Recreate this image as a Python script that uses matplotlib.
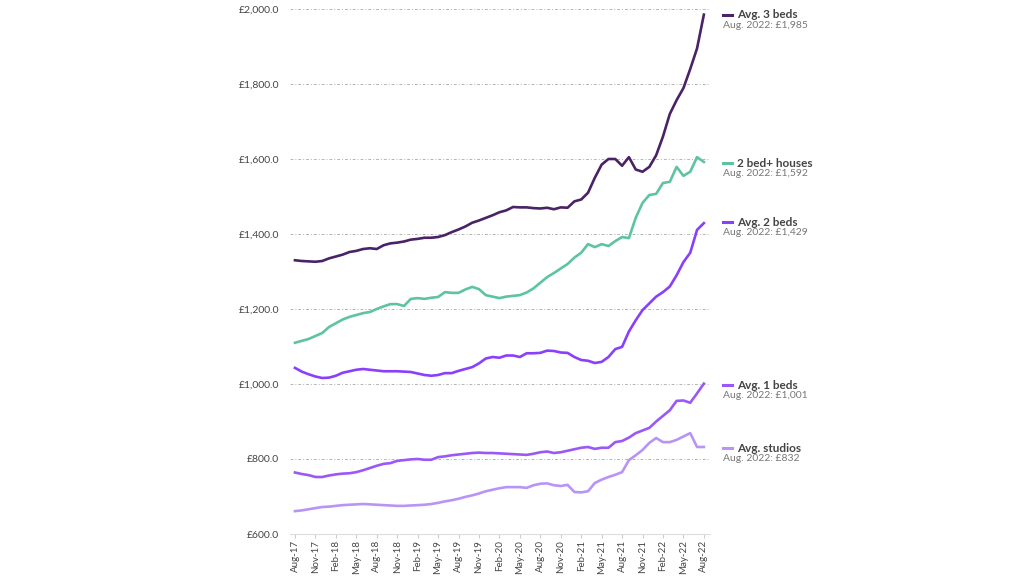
import matplotlib
matplotlib.use("Agg")
import matplotlib.pyplot as plt
from matplotlib.ticker import FuncFormatter

# monthly labels, Aug-17 .. Aug-22
months = ["Aug-17", "Sep-17", "Oct-17", "Nov-17", "Dec-17", "Jan-18", "Feb-18", "Mar-18", "Apr-18",
          "May-18", "Jun-18", "Jul-18", "Aug-18", "Sep-18", "Oct-18", "Nov-18", "Dec-18", "Jan-19",
          "Feb-19", "Mar-19", "Apr-19", "May-19", "Jun-19", "Jul-19", "Aug-19", "Sep-19", "Oct-19",
          "Nov-19", "Dec-19", "Jan-20", "Feb-20", "Mar-20", "Apr-20", "May-20", "Jun-20", "Jul-20",
          "Aug-20", "Sep-20", "Oct-20", "Nov-20", "Dec-20", "Jan-21", "Feb-21", "Mar-21", "Apr-21",
          "May-21", "Jun-21", "Jul-21", "Aug-21", "Sep-21", "Oct-21", "Nov-21", "Dec-21", "Jan-22",
          "Feb-22", "Mar-22", "Apr-22", "May-22", "Jun-22", "Jul-22", "Aug-22"]

three_beds = [1330, 1328, 1327, 1326, 1328, 1335, 1340, 1345, 1352, 1355, 1360, 1362, 1360, 1370,
              1375, 1377, 1380, 1385, 1387, 1390, 1390, 1392, 1397, 1405, 1412, 1420, 1430, 1436,
              1443, 1450, 1458, 1463, 1472, 1471, 1471, 1469, 1468, 1470, 1466, 1471, 1470, 1487,
              1492, 1510, 1550, 1585, 1600, 1600, 1582, 1605, 1572, 1566, 1579, 1610, 1660, 1720,
              1757, 1789, 1840, 1895, 1985]

houses = [1110, 1115, 1120, 1128, 1136, 1152, 1162, 1172, 1179, 1184, 1189, 1192, 1200, 1207,
          1213, 1213, 1208, 1227, 1229, 1227, 1230, 1232, 1245, 1243, 1243, 1252, 1259, 1253,
          1237, 1233, 1229, 1233, 1235, 1237, 1244, 1255, 1270, 1285, 1296, 1308, 1320, 1337,
          1350, 1373, 1365, 1373, 1368, 1381, 1392, 1389, 1443, 1483, 1504, 1507, 1536, 1539,
          1579, 1555, 1566, 1605, 1592]

two_beds = [1043, 1033, 1026, 1020, 1016, 1017, 1022, 1030, 1034, 1038, 1040, 1038, 1036, 1034,
            1034, 1034, 1033, 1032, 1028, 1024, 1022, 1024, 1029, 1029, 1035, 1040, 1045, 1055,
            1068, 1072, 1070, 1076, 1076, 1072, 1082, 1082, 1083, 1089, 1088, 1084, 1083, 1072,
            1064, 1062, 1056, 1059, 1072, 1093, 1099, 1140, 1170, 1197, 1215, 1233, 1245, 1260,
            1290, 1325, 1350, 1411, 1429]

one_beds = [764, 760, 757, 752, 752, 756, 759, 761, 762, 765, 770, 776, 782, 787, 789, 795, 797,
            799, 800, 798, 798, 805, 807, 810, 812, 814, 816, 817, 816, 816, 815, 814, 813, 812,
            811, 814, 818, 820, 816, 818, 822, 826, 830, 832, 827, 830, 830, 845, 848, 857, 869,
            876, 883, 900, 915, 930, 955, 956, 950, 975, 1001]

studios = [661, 663, 666, 669, 672, 673, 675, 677, 678, 679, 680, 679, 678, 677, 676, 675, 675,
           676, 677, 678, 680, 683, 687, 690, 694, 699, 703, 708, 714, 718, 722, 725, 725, 725,
           723, 730, 734, 735, 730, 728, 731, 712, 711, 714, 736, 745, 752, 758, 765, 797, 810,
           824, 843, 856, 845, 845, 851, 860, 869, 832, 832]

series_names = ["Avg. 3 beds", "2 bed+ houses", "Avg. 2 beds", "Avg. 1 beds", "Avg. studios"]
series_notes = ["Aug. 2022: £1,985", "Aug. 2022: £1,592", "Aug. 2022: £1,429",
                "Aug. 2022: £1,001", "Aug. 2022: £832"]
colors = ["#4a2266", "#5ec49f", "#8a3ffb", "#9a58f7", "#b894f7"]
# vertical position of each legend label (data units)
label_y = [1984, 1589, 1432, 997, 829]

plt.rcParams["font.family"] = ["Lato", "DejaVu Sans"]

fig = plt.figure(figsize=(10.24, 5.76), dpi=100)
ax = fig.add_axes([290 / 1024, 42 / 576, 420 / 1024, 525 / 576])

x = list(range(len(months)))
all_series = [three_beds, houses, two_beds, one_beds, studios]
for vals, c in zip(all_series, colors):
    ax.plot(x, vals, color=c, lw=1.9, solid_joinstyle="round", zorder=3)

ax.set_ylim(600, 2000)
ax.set_xlim(-0.73, 60.9)
ax.set_yticks(range(600, 2001, 200))
ax.yaxis.set_major_formatter(FuncFormatter(lambda v, p: "£{:,.1f}".format(v)))
ax.grid(axis="y", color="#b5b5b5", linestyle=(0, (3, 2, 1, 2)), linewidth=0.7)
ax.set_xticks(x[::3])
ax.set_xticklabels(months[::3], rotation=90, fontsize=7, color="#444444")
ax.tick_params(axis="y", length=0, labelsize=7.5, labelcolor="#444444", pad=8)
ax.tick_params(axis="x", length=3, color="#cccccc", pad=1.5)

for side in ["top", "right", "left"]:
    ax.spines[side].set_visible(False)
ax.spines["bottom"].set_color("#dddddd")

# labels on the right of the lines
for name, note, c, yv in zip(series_names, series_notes, colors, label_y):
    ax.plot([62.8, 64.2], [yv, yv], color=c, lw=2.2, clip_on=False)
    ax.text(64.8, yv, name, fontsize=8.5, fontweight="bold", color="#444444", va="center")
    ax.text(62.8, yv - 28, note, fontsize=7.5, color="#777777", va="center")

fig.savefig("out.png", dpi=100, facecolor="white")
